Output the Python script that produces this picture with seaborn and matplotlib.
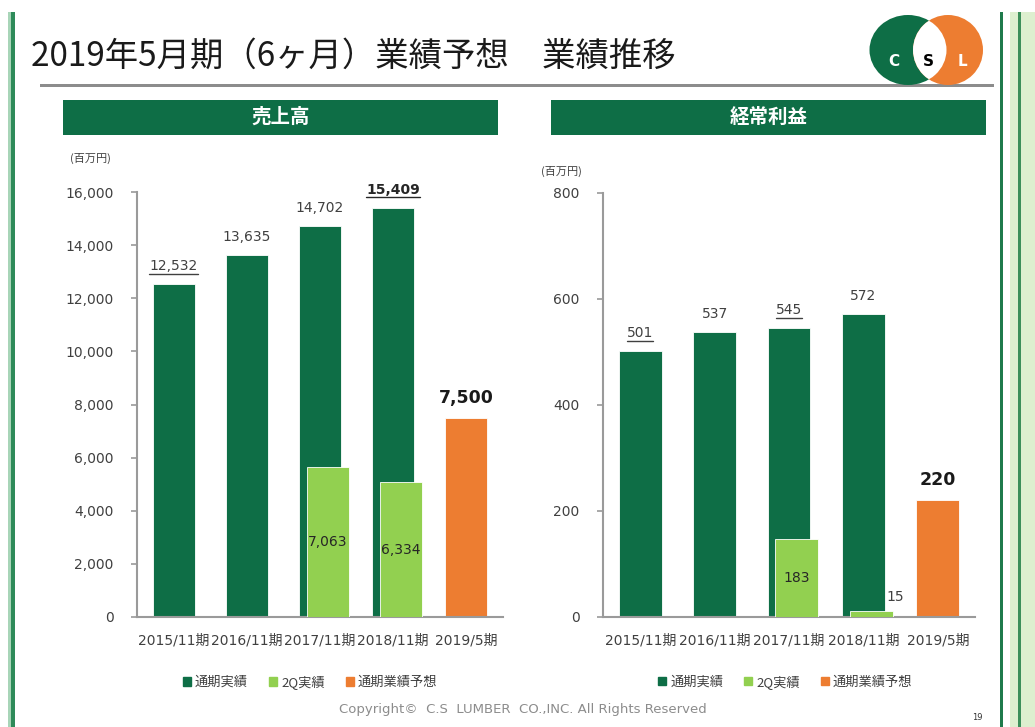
import numpy as np
import pandas as pd
import seaborn as sns
import matplotlib.pyplot as plt
from matplotlib.patches import Rectangle, Ellipse, Patch
from matplotlib.lines import Line2D
from matplotlib.ticker import FuncFormatter

# ---- data ----
categories = ["2015/11期", "2016/11期", "2017/11期", "2018/11期", "2019/5期"]
kinds = ["通期実績", "通期実績", "通期実績", "通期実績", "通期業績予想"]
sales = [12532, 13635, 14702, 15409, 7500]
profit = [501, 537, 545, 572, 220]
q2_cats = ["2017/11期", "2018/11期"]
q2_sales = [7063, 6334]
q2_profit = [183, 15]
legend_labels = ["通期実績", "2Q実績", "通期業績予想"]

DARK = "#0E6E46"
LIGHT = "#92D050"
ORANGE = "#ED7D31"
GRAY_TXT = "#404040"
AXIS_GRAY = "#9A9A9A"
W, H = 1035, 727

sns.set_style("white")
plt.rcParams["font.family"] = ["DejaVu Sans", "Noto Sans CJK JP"]

fig = plt.figure(figsize=(W / 100, H / 100), dpi=100)

# full-figure overlay for slide decorations (pixel coordinates)
deco = fig.add_axes([0, 0, 1, 1], zorder=0)
deco.set_xlim(0, W)
deco.set_ylim(H, 0)
deco.axis("off")
deco.patch.set_alpha(0)

# side borders
deco.add_patch(Rectangle((8, 12), 3, H, color="#A8D5B8", lw=0))
deco.add_patch(Rectangle((11, 12), 3.5, H, color="#2E8B5A", lw=0))
deco.add_patch(Rectangle((1000, 12), 3, H, color="#1F7A4C", lw=0))
deco.add_patch(Rectangle((1010, 12), 25, H, color="#DDEFCF", lw=0))
deco.add_patch(Rectangle((1018, 12), 3, H, color="#3C8F5A", lw=0))

# title + rule
deco.text(31, 56, "2019年5月期（6ヶ月）業績予想　業績推移", fontsize=24,
          family=["Noto Sans CJK JP"], color="#1a1a1a", va="center", ha="left")
deco.add_patch(Rectangle((40, 84), 954, 3, color="#8C8C8C", lw=0))

# logo
g = Ellipse((908, 50), 77, 70, color=DARK, lw=0)
o = Ellipse((948, 50), 70, 70, color=ORANGE, lw=0)
deco.add_patch(g)
deco.add_patch(o)
lens = Ellipse((908, 50), 77, 70, color="white", lw=0)
deco.add_patch(lens)
lens.set_clip_path(Ellipse((948, 50), 70, 70, transform=deco.transData))
for lx, ch, c in [(894, "C", "white"), (928, "S", "black"), (962, "L", "white")]:
    deco.text(lx, 62, ch, fontsize=11, weight="bold", color=c, ha="center", va="center")

# section headers
for x0, label in [(63, "売上高"), (551, "経常利益")]:
    deco.add_patch(Rectangle((x0, 100), 435, 35, color=DARK, lw=0))
    deco.text(x0 + 217.5, 117, label, fontsize=14, weight="bold", color="white",
              ha="center", va="center", family=["Noto Sans CJK JP"])

# footer
deco.text(523, 710, "Copyright©  C.S  LUMBER  CO.,INC. All Rights Reserved", fontsize=9.5,
          color="#8C8C8C", ha="center", va="center", family=["Liberation Sans Narrow", "DejaVu Sans"])
deco.text(977, 718, "19", fontsize=6, color="#333333", ha="center", va="center")

underlines = []


def draw_panel(rect, values, q2_values, ymax, ystep, ymax2, unit_xy, legend_x):
    ax = fig.add_axes(rect, zorder=2)
    ax.patch.set_alpha(0)
    df = pd.DataFrame({"cat": categories, "val": values, "kind": kinds})
    sns.barplot(data=df, x="cat", y="val", hue="kind", dodge=False, width=0.575,
                palette={"通期実績": DARK, "通期業績予想": ORANGE}, legend=False,
                saturation=1, edgecolor="white", linewidth=0.6, ax=ax)

    # 2Q results on a hidden secondary scale
    ax2 = ax.twinx()
    ax2.patch.set_alpha(0)
    q2_pos = [categories.index(c) + 0.105 for c in q2_cats]
    sns.barplot(x=q2_pos, y=q2_values, native_scale=True, width=0.575, color=LIGHT,
                saturation=1, edgecolor="white", linewidth=0.6, ax=ax2)
    ax2.set_ylim(0, ymax2)
    ax2.set_yticks([])
    for s in ax2.spines.values():
        s.set_visible(False)

    ax.set_xlim(-0.5, len(categories) - 0.5)
    ax.set_ylim(0, ymax)
    ax.set_yticks(np.arange(0, ymax + 1, ystep))
    ax.yaxis.set_major_formatter(FuncFormatter(lambda v, p: f"{int(v):,}"))
    ax.set_xticks(range(len(categories)))
    ax.set_xticklabels(categories)
    ax.set_xticks(np.arange(-0.5, len(categories)), minor=True)
    ax.tick_params(axis="x", which="major", length=0, pad=12, labelsize=10, labelcolor=GRAY_TXT)
    ax.tick_params(axis="x", which="minor", length=5, width=1.2, color=AXIS_GRAY, direction="out")
    ax.tick_params(axis="y", length=4, width=1.2, color=AXIS_GRAY, pad=13, labelsize=10,
                   labelcolor=GRAY_TXT, left=True)
    ax.set_xlabel("")
    ax.set_ylabel("")
    for s in ["top", "right"]:
        ax.spines[s].set_visible(False)
    for s in ["left", "bottom"]:
        ax.spines[s].set_color(AXIS_GRAY)
        ax.spines[s].set_linewidth(1.5)
    ax.grid(False)

    # value labels
    for i, v in enumerate(values):
        if kinds[i] == "通期業績予想":
            ax.annotate(f"{v:,}", (i, v), xytext=(0, 8), textcoords="offset points",
                        ha="center", va="bottom", fontsize=12.5, weight="bold", color="#1a1a1a")
        else:
            bold = i == 3 and values is sales
            t = ax.annotate(f"{v:,}", (i, v), xytext=(0, 8), textcoords="offset points",
                            ha="center", va="bottom", fontsize=10,
                            weight="bold" if bold else "normal",
                            color="#262626" if bold else GRAY_TXT)
            if (values is sales and i in (0, 3)) or (values is profit and i in (0, 2)):
                underlines.append(t)
    for p, v in zip(q2_pos, q2_values):
        if v / ymax2 > 0.05:
            ax2.annotate(f"{v:,}", (p, v / 2), ha="center", va="center", fontsize=10,
                         color="#262626")
        else:
            ax2.annotate(f"{v:,}", (p, v), xytext=(17, 10), textcoords="offset points",
                         ha="center", va="center", fontsize=10, color=GRAY_TXT)

    deco.text(unit_xy[0], unit_xy[1], "(百万円)", fontsize=8, color=GRAY_TXT,
              ha="left", va="center", family=["Noto Sans CJK JP"])

    handles = [Patch(color=c, label=l) for c, l in zip([DARK, LIGHT, ORANGE], legend_labels)]
    ax.legend(handles=handles, loc="center", bbox_to_anchor=(legend_x, -0.153), ncol=3,
              frameon=False, handlelength=0.6, handleheight=0.6, handletextpad=0.3,
              columnspacing=1.6, prop={"size": 9.5, "family": ["Noto Sans CJK JP"]},
              labelcolor=GRAY_TXT)
    return ax


draw_panel([137 / W, 1 - 617 / H, 366 / W, 425 / H], sales, q2_sales,
           16000, 2000, 20000, (70, 158), 0.473)
draw_panel([603 / W, 1 - 617 / H, 372 / W, 424 / H], profit, q2_profit,
           800, 200, 1000, (541, 171), 0.49)

# underline selected labels
fig.canvas.draw()
for t in underlines:
    bb = t.get_window_extent()
    y = (bb.y0 - 0.5) / fig.bbox.height
    fig.add_artist(Line2D([bb.x0 / fig.bbox.width, bb.x1 / fig.bbox.width], [y, y],
                          transform=fig.transFigure, color=t.get_color(), lw=1))

fig.savefig("out.png", dpi=100)
